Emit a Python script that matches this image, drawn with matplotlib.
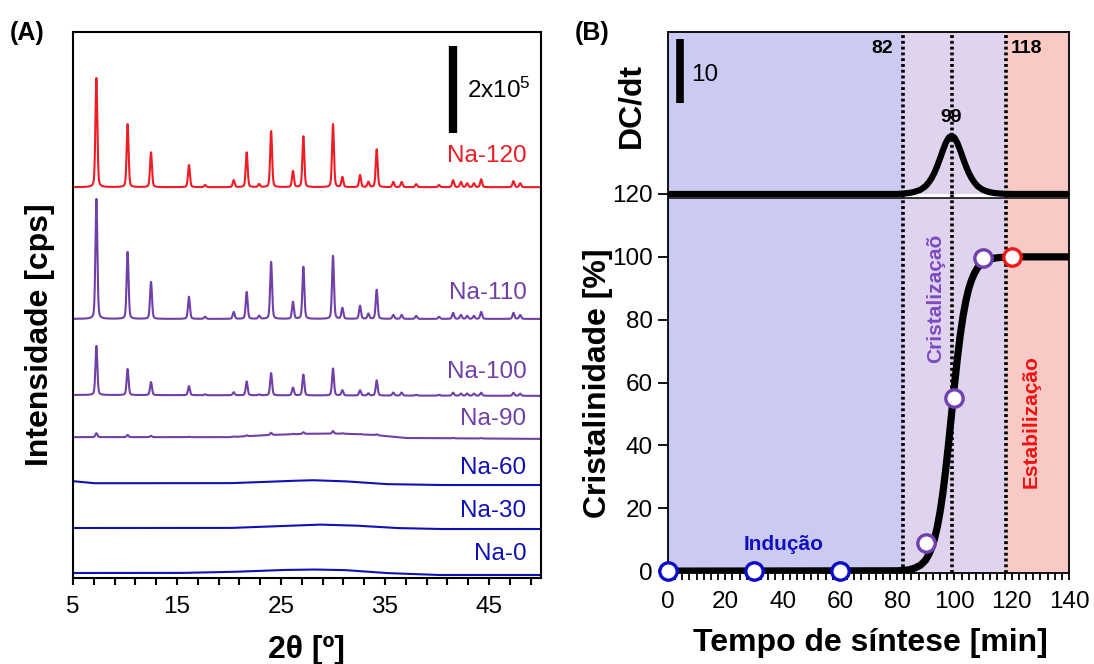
import numpy as np
import matplotlib
matplotlib.use('Agg')
import matplotlib.pyplot as plt

plt.rcParams['font.family'] = ['Liberation Sans', 'DejaVu Sans']
plt.rcParams['mathtext.fontset'] = 'custom'
plt.rcParams['mathtext.rm'] = 'Liberation Sans'
plt.rcParams['mathtext.it'] = 'Liberation Sans:italic'
plt.rcParams['mathtext.bf'] = 'Liberation Sans:bold'

# ---------------- Panel A data (XRD, intensities in kcps, stacked offsets) ----------------
peak_pos = [7.25, 10.25, 12.5, 16.15, 17.7, 20.45, 21.7, 22.9, 24.05, 26.15, 27.15, 30.0,
            30.9, 32.6, 33.4, 34.2, 35.8, 36.6, 38.0, 40.2, 41.55, 42.3, 42.9, 43.55, 44.25,
            47.35, 48.0]
h_na120 = [251, 145, 80, 51, 5, 16, 80, 7, 129, 37, 117, 145, 23, 28, 12, 87, 12, 12, 7, 5,
           16, 12, 9, 9, 18, 14, 9]
h_na110 = [276, 154, 85, 51, 5, 16, 62, 7, 131, 39, 120, 145, 25, 30, 12, 67, 9, 9, 7, 5,
           14, 9, 7, 7, 16, 14, 9]
h_na100 = [113, 60, 30, 21, 2, 7, 32, 2, 51, 18, 48, 62, 12, 12, 5, 35, 7, 7, 2, 2,
           7, 5, 5, 5, 7, 7, 5]
h_na90 = [9, 5, 3, 1, 0, 1, 2, 0, 5, 1, 4, 6, 1, 1, 0, 2, 0, 0, 0, 0, 1, 0, 0, 0, 1, 0, 0]
h_none = [0] * len(peak_pos)

# baseline (amorphous background) points: 2theta, kcps
base_x_na0 = [5, 15, 20, 25, 28, 31, 35, 40, 50]
base_y_na0 = [11.5, 11.5, 13.8, 18.4, 19.6, 18.4, 11.5, 6.9, 6.9]
base_x_na30 = [5, 20, 25, 28.5, 32, 36, 40, 50]
base_y_na30 = [115, 115, 119.6, 123, 120.8, 115, 112.7, 112.7]
base_x_na60 = [5, 7, 20, 25, 28, 31, 35, 40, 50]
base_y_na60 = [222.7, 218, 218, 222.7, 225, 222.7, 216, 213.9, 213.9]
base_x_na90 = [5, 20, 24, 28, 31, 34, 37, 50]
base_y_na90 = [324, 324, 329, 332, 332, 329, 322, 320]
base_x_na100 = [5, 50]
base_y_na100 = [421, 419]
base_x_na110 = [5, 50]
base_y_na110 = [596, 596]
base_x_na120 = [5, 50]
base_y_na120 = [899, 899]

sample_names = ['Na-0', 'Na-30', 'Na-60', 'Na-90', 'Na-100', 'Na-110', 'Na-120']
label_y = [55, 154, 253, 366, 474, 656, 971]
xrd_xticklabels = ['5', '15', '25', '35', '45']

# ---------------- Panel B data ----------------
t_blue = [0, 30, 60]
c_blue = [0, 0, 0]
t_purple = [90, 100, 110]
c_purple = [9, 55, 99.5]
t_red = [120]
c_red = [100]

curve_t = [0, 80, 82, 84, 86, 88, 89, 90, 91, 92, 93, 94, 95, 96, 97, 98, 99, 100, 101, 102,
           103, 104, 105, 106, 107, 108, 109, 110, 112, 114, 116, 118, 120, 140]
curve_c = [0, 0.1, 0.2, 0.4, 0.9, 1.8, 2.6, 3.6, 5.2, 7.3, 10.1, 14.0, 18.9, 25.1, 32.6, 41.0,
           50.0, 59.0, 67.4, 74.9, 81.1, 86.0, 89.9, 92.7, 94.8, 96.4, 97.4, 98.2, 99.1, 99.6,
           99.8, 99.9, 100, 100]
deriv_dc = [0, 0.0, 0.07, 0.15, 0.32, 0.64, 0.92, 1.26, 1.79, 2.46, 3.30, 4.38, 5.58, 6.85,
            8.00, 8.80, 9.09, 8.80, 7.99, 6.84, 5.57, 4.38, 3.30, 2.46, 1.79, 1.26, 0.92, 0.64,
            0.32, 0.15, 0.07, 0.03, 0, 0]
stage_bounds = [0, 82, 118, 140]
marker_lines = [82, 99, 118]
xticks_b = [0, 20, 40, 60, 80, 100, 120, 140]
yticks_b = [0, 20, 40, 60, 80, 100, 120]

# ---------------- colours ----------------
RED = '#EE1C24'
PURPLE = '#7040A8'
BLUE = '#1010B4'
bg_colors = ['#CACAF2', '#DFD3ED', '#F9C9C5']

W, H = 1094, 664
fig = plt.figure(figsize=(W / 100, H / 100), dpi=100)


def px_axes(l, t, r, b):
    return fig.add_axes([l / W, 1 - b / H, (r - l) / W, (b - t) / H])


TICK_FS = 17.5
LAB_FS = 23

# ================= Panel A =================
axA = px_axes(73, 32, 541, 578)
grid = np.linspace(5, 50, 4501)


def pattern(bx, by, heights, fwhm=0.22):
    y = np.interp(grid, bx, by).astype(float)
    s = fwhm / 2.3548
    for p, h in zip(peak_pos, heights):
        if h:
            g = np.exp(-0.5 * ((grid - p) / s) ** 2)
            lo = 1.0 / (1 + ((grid - p) / (fwhm / 2)) ** 2)
            y += h * (0.7 * g + 0.3 * lo)
    return y


series = [
    (base_x_na0, base_y_na0, h_none, BLUE),
    (base_x_na30, base_y_na30, h_none, BLUE),
    (base_x_na60, base_y_na60, h_none, BLUE),
    (base_x_na90, base_y_na90, h_na90, PURPLE),
    (base_x_na100, base_y_na100, h_na100, PURPLE),
    (base_x_na110, base_y_na110, h_na110, PURPLE),
    (base_x_na120, base_y_na120, h_na120, RED),
]
for (bx, by, hh, col), name, ly in zip(series, sample_names, label_y):
    axA.plot(grid, pattern(bx, by, hh), color=col, lw=1.5)
    axA.text(48.6, ly, name, color=col, fontsize=TICK_FS, ha='right', va='center')

axA.set_xlim(5, 50)
axA.set_ylim(0, 1256)
ticksA = np.arange(5, 50, 2)
axA.set_xticks(ticksA)
axA.set_xticklabels([str(int(t)) if str(int(t)) in xrd_xticklabels else '' for t in ticksA])
axA.set_yticks([])
axA.tick_params(axis='x', direction='out', length=5, width=1.5, labelsize=TICK_FS, pad=8)
for sp in axA.spines.values():
    sp.set_linewidth(1.5)
# scale bar 2x10^5
axA.plot([41.5, 41.5], [1023.5, 1223.5], color='black', lw=6, solid_capstyle='butt')
axA.text(42.9, 1122, r'2x10$^{5}$', fontsize=TICK_FS, ha='left', va='center')

fig.text(40 / W, 1 - 335 / H, 'Intensidade [cps]', rotation=90, fontsize=LAB_FS,
         fontweight='bold', ha='center', va='center')
fig.text(306 / W, 1 - 650 / H, '2θ [º]', fontsize=LAB_FS, fontweight='bold',
         ha='center', va='center')
fig.text(27 / W, 1 - 33 / H, '(A)', fontsize=18, fontweight='bold', ha='center', va='center')

# ================= Panel B =================
axB = px_axes(668, 194, 1069, 573)
axT = px_axes(668, 32, 1069, 194)

for ax in (axB, axT):
    for i in range(3):
        ax.axvspan(stage_bounds[i], stage_bounds[i + 1], color=bg_colors[i], lw=0, zorder=0)
    for xv in marker_lines:
        ax.axvline(xv, color='black', lw=2.6, dashes=(0.8, 0.8), zorder=2)
    ax.set_xlim(0, 140)
    for sp in ax.spines.values():
        sp.set_linewidth(1.3)

# lower panel
axB.set_ylim(-0.6, 120)
axB.axhspan(118.6, 120, color='white', lw=0, zorder=1)
axB.axhline(118.6, color='black', lw=1.1, zorder=3)
axB.spines['top'].set_visible(False)
axB.plot(curve_t, curve_c, color='black', lw=5.2, zorder=4, solid_capstyle='butt')
axB.plot(t_blue, c_blue, 'o', ms=12.5, mfc='white', mec='#0A0AC8', mew=2.4, zorder=6,
         clip_on=False)
axB.plot(t_purple, c_purple, 'o', ms=12.5, mfc='white', mec='#7040B0', mew=2.4, zorder=6,
         clip_on=False)
axB.plot(t_red, c_red, 'o', ms=12.5, mfc='white', mec='#F01818', mew=2.4, zorder=6,
         clip_on=False)
axB.set_xticks(xticks_b)
axB.set_xticks(np.arange(0, 140.1, 2.5), minor=True)
axB.set_yticks(yticks_b)
axB.tick_params(axis='x', which='both', direction='out', length=5, width=1.3,
                labelsize=TICK_FS, pad=8)
axB.tick_params(axis='y', direction='out', length=7, width=1.3, labelsize=TICK_FS, pad=4)

axB.text(40.5, 8.5, 'Indução', color='#1010C0', fontsize=15, fontweight='bold',
         ha='center', va='center', zorder=5)
axB.text(93.3, 86.7, 'Cristalizaçaõ', color='#7B4BC0', fontsize=15, fontweight='bold',
         rotation=90, ha='center', va='center', zorder=5)
axB.text(126.8, 47.6, 'Estabilização', color='#F01010', fontsize=15, fontweight='bold',
         rotation=90, ha='center', va='center', zorder=5)

# upper panel: DC/dt
axT.set_ylim(0, 25.3)
axT.spines['bottom'].set_visible(False)
axT.set_xticks([])
axT.set_yticks([])
axT.plot(curve_t, deriv_dc, color='black', lw=4.5, zorder=4, clip_on=False,
         solid_capstyle='butt')
axT.plot([4.2, 4.2], [14.2, 24.2], color='black', lw=5.5, solid_capstyle='butt', zorder=5)
axT.text(8.0, 18.6, '10', fontsize=TICK_FS, ha='left', va='center', zorder=5)
axT.text(78.6, 22.8, '82', fontsize=14, fontweight='bold', ha='right', va='center', zorder=5)
axT.text(119.6, 22.8, '118', fontsize=14, fontweight='bold', ha='left', va='center', zorder=5)
axT.text(99, 11.9, '99', fontsize=14, fontweight='bold', ha='center', va='center', zorder=5)

fig.text(631 / W, 1 - 105 / H, 'DC/dt', rotation=90, fontsize=LAB_FS, fontweight='bold',
         ha='center', va='center')
fig.text(598 / W, 1 - 383 / H, 'Cristalinidade [%]', rotation=90, fontsize=LAB_FS,
         fontweight='bold', ha='center', va='center')
fig.text(870 / W, 1 - 643 / H, 'Tempo de síntese [min]', fontsize=LAB_FS, fontweight='bold',
         ha='center', va='center')
fig.text(592 / W, 1 - 33 / H, '(B)', fontsize=18, fontweight='bold', ha='center', va='center')

fig.savefig('out.png', dpi=100)
